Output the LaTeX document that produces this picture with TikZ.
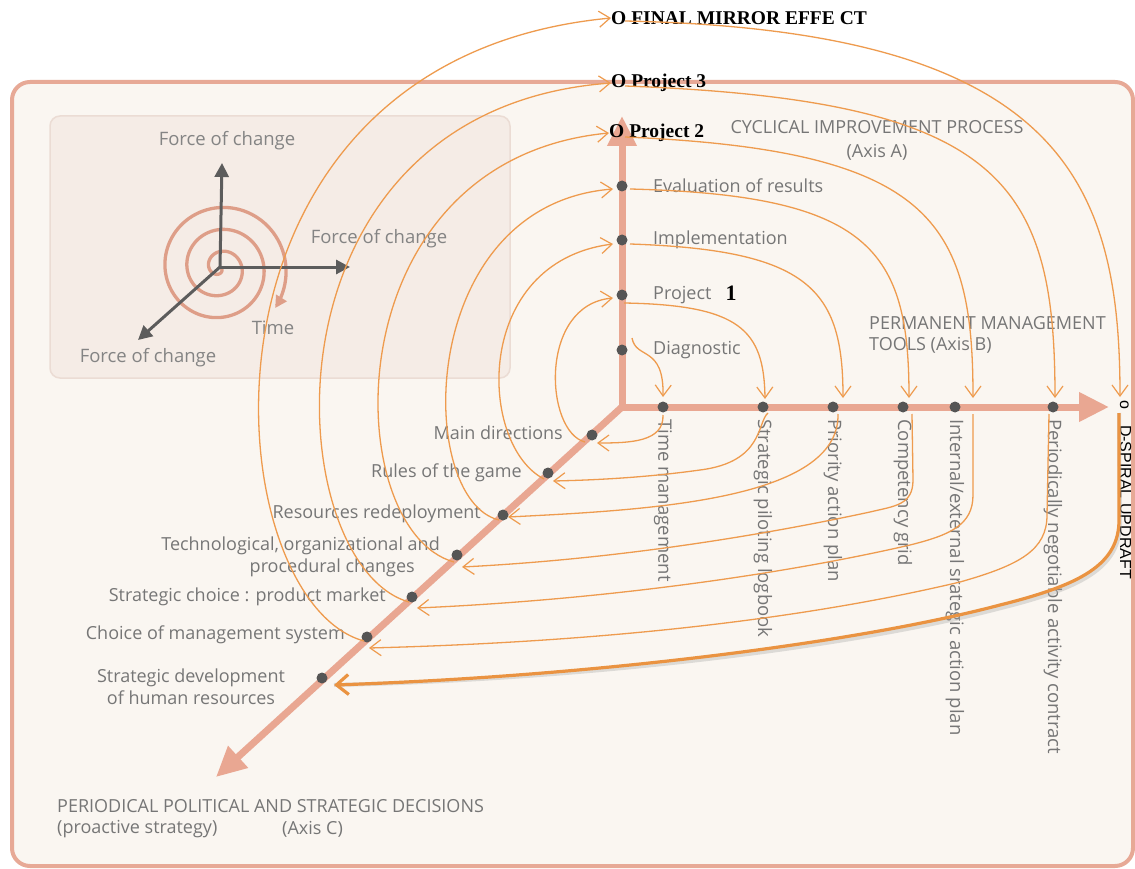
\documentclass[tikz,border=0pt]{standalone}
\usepackage{fontspec}
\setmainfont{Open Sans}
\newfontfamily\serifb{Liberation Serif}
\newfontfamily\arialf{Liberation Sans}
\usetikzlibrary{arrows.meta,calc}
\definecolor{framec}{HTML}{E7A996}
\definecolor{bgc}{HTML}{FAF6F1}
\definecolor{insetc}{HTML}{F5ECE6}
\definecolor{insetb}{HTML}{EBDCD4}
\definecolor{axisc}{HTML}{E9A792}
\definecolor{dotc}{HTML}{555555}
\definecolor{lblc}{HTML}{767676}
\definecolor{spc}{HTML}{EE9B4E}
\definecolor{thickc}{HTML}{EA9341}
\definecolor{darkax}{HTML}{5C5C5C}
\definecolor{ringc}{HTML}{DE9E88}
\tikzset{
  axisline/.style={draw=axisc, line width=7pt, -{Triangle[length=30pt,width=28pt]}},
  dotn/.style={circle, fill=dotc, inner sep=0pt, minimum size=11pt},
  lab/.style={text=lblc, font=\fontsize{18}{21}\selectfont, inner sep=0pt},
  vlab/.style={lab, font=\fontsize{18.5}{21}\selectfont, rotate=-90, anchor=west},
  blk/.style={text=black, font=\serifb\bfseries\fontsize{19.5}{21}\selectfont, inner sep=0pt},
  sp/.style={draw=spc, line width=1.3pt, -{Straight Barb[length=11pt,width=16pt,line width=1.2pt]}},
  thickarrow/.style={draw=thickc, line width=3.2pt, -{Straight Barb[length=12pt,width=20pt]}},
  darkarrow/.style={draw=darkax, line width=3pt, -{Triangle[length=14pt,width=14pt]}},
  insetlab/.style={text=lblc!90, font=\fontsize{18.5}{21}\selectfont, inner sep=0pt}
}
\begin{document}
\begin{tikzpicture}[x=1pt,y=-1pt]
\useasboundingbox (0,0) rectangle (1135,869);
\fill[white] (0,0) rectangle (1135,869);
% outer frame
\draw[draw=framec, fill=bgc, line width=4pt, rounded corners=18pt] (12,82) rectangle (1133,866);
% inset
\draw[draw=insetb, fill=insetc, line width=1.5pt, rounded corners=10pt] (50,116) rectangle (510,378);
\draw[draw=ringc, line width=3.3pt, -{Triangle[length=12pt,width=12pt]}]
  plot[domain=20:1116, samples=300, smooth] ({220+0.0611*\x*cos(\x)},{268+0.0611*\x*sin(\x)});
\coordinate (ic) at (220,267);
\coordinate (iup) at (222,163);
\coordinate (irt) at (350,267);
\coordinate (idl) at (138,340);
\draw[darkarrow] (ic) -- (iup);
\draw[darkarrow] (ic) -- (irt);
\draw[darkarrow] (ic) -- (idl);
\node[insetlab] (fc1) at (227,141) {Force of change};
\node[insetlab] (fc2) at (379,239) {Force of change};
\node[insetlab] (fc3) at (148,358) {Force of change};
\node[insetlab] (tim) at (273,328) {Time};
% axes
\coordinate (o) at (622,407);
\coordinate (atip) at (622,116);
\coordinate (btip) at (1109,407);
\coordinate (ctip) at (216,777);
\draw[axisline] (o) -- (atip);
\draw[axisline] (o) -- (btip);
\draw[axisline] (o) -- (ctip);
% dots
\node[dotn] (diag) at (622,350) {};
\node[dotn] (proj) at (622,295) {};
\node[dotn] (impl) at (622,240) {};
\node[dotn] (eval) at (622,186) {};
\node[dotn] (tm) at (663,407) {};
\node[dotn] (spl) at (763,407) {};
\node[dotn] (pap) at (833,407) {};
\node[dotn] (cg) at (903,407) {};
\node[dotn] (ie) at (955,407) {};
\node[dotn] (pnac) at (1053,407) {};
\node[dotn] (md) at (592,435) {};
\node[dotn] (rg) at (548,473) {};
\node[dotn] (rr) at (503,515) {};
\node[dotn] (tc) at (457,555) {};
\node[dotn] (sc) at (412,597) {};
\node[dotn] (cms) at (367,637) {};
\node[dotn] (sd) at (322,678) {};
% axis A labels
\node[lab, anchor=west] (ldiag) at (653,350) {Diagnostic};
\node[lab, anchor=west] (lproj) at (653,295) {Project};
\node[lab, anchor=west] (limpl) at (653,240) {Implementation};
\node[lab, anchor=west] (leval) at (653,186) {Evaluation of results};
\node[blk, font=\serifb\bfseries\fontsize{22}{22}\selectfont] (one) at (731,293) {1};
\node[lab, align=center] (axa) at (877,140) {CYCLICAL IMPROVEMENT PROCESS\\[3pt](Axis A)};
\node[lab, align=left, anchor=west] (axb) at (869,335) {PERMANENT MANAGEMENT\\TOOLS (Axis B)};
% axis B labels
\node[vlab] (ltm) at (663,419) {Time management};
\node[vlab] (lspl) at (763,419) {Strategic piloting logbook};
\node[vlab] (lpap) at (833,419) {Priority action plan};
\node[vlab] (lcg) at (903,419) {Competency grid};
\node[vlab] (lie) at (955,419) {Internal/external srategic action plan};
\node[vlab] (lpnac) at (1053,419) {Periodically negotiable activity contract};
% axis C labels
\node[lab, anchor=east] (lmd) at (563,433) {Main directions};
\node[lab, anchor=east] (lrg) at (522,473) {Rules of the game};
\node[lab, anchor=east] (lrr) at (481,514) {Resources redeployment};
\node[lab, anchor=east] (ltc1) at (440,546) {Technological, organizational and};
\node[lab, anchor=east] (ltc2) at (415,568) {procedural changes};
\node[lab, anchor=east] (lsc) at (386,597) {Strategic choice : product market};
\node[lab, anchor=east] (lcms) at (345,635) {Choice of management system};
\node[lab, align=center] (lsd) at (191,687) {Strategic development\\[1pt]of human resources};
\node[lab, anchor=west] (axc1) at (57,806) {PERIODICAL POLITICAL AND STRATEGIC DECISIONS};
\node[lab, anchor=west] (axc2) at (57,829) {(proactive strategy)};
\node[lab, anchor=west] (axc3) at (282,829) {(Axis C)};
% black labels
\node[blk, anchor=west] (p2) at (609,133) {O Project 2};
\node[blk, anchor=west] (p3) at (611,83) {O Project 3};
\node[blk, anchor=west] (fin) at (611,18) {O FINAL MIRROR EFFE CT};
\node[text=black, font=\arialf\fontsize{16}{16}\selectfont, inner sep=0pt, rotate=-90, anchor=base west] (dsp) at (1120,400) {o\quad D-SPIRAL UPDRAFT};
% spiral connector points
\coordinate (a0s) at (632,338); \coordinate (b0e) at (663,397);
\coordinate (b0s) at (663,415); \coordinate (c0e) at (597,443);
\coordinate (c0s) at (585,442); \coordinate (a1e) at (613,298);
\coordinate (a1s) at (624,303); \coordinate (b1e) at (765,399);
\coordinate (b1s) at (768,413); \coordinate (c1e) at (553,481);
\coordinate (c1s) at (544,479); \coordinate (a2e) at (613,244);
\coordinate (a2s) at (630,244); \coordinate (b2e) at (843,398);
\coordinate (b2s) at (838,414); \coordinate (c2e) at (508,517);
\coordinate (c2s) at (499,520); \coordinate (a3e) at (613,189);
\coordinate (a3s) at (630,189); \coordinate (b3e) at (909,398);
\coordinate (b3s) at (912,414); \coordinate (c3e) at (462,567);
\coordinate (c3s) at (454,562);
\coordinate (a4s) at (625,137); \coordinate (b4e) at (973,398);
\coordinate (b4s) at (973,414); \coordinate (c4e) at (417,608);
\coordinate (c4s) at (409,602);
\coordinate (a5s) at (625,86); \coordinate (b5e) at (1055,398);
\coordinate (b5s) at (1049,414); \coordinate (c5e) at (369,648);
\coordinate (c5s) at (364,641);
\coordinate (a6s) at (625,21); \coordinate (b6e) at (1120,397);
\coordinate (b6s) at (1119,413); \coordinate (c6e) at (334,685);
% loop 0
\draw[sp] (a0s) .. controls (636,360) and (664,345) .. (b0e);
\draw[sp] (b0s) .. controls (664,442) and (630,443) .. (c0e);
\draw[sp] (c0s) .. controls (545,432) and (538,305) .. (a1e);
% loop 1
\draw[sp] (a1s) .. controls (740,305) and (764,330) .. (b1e);
\draw[sp] (b1s) .. controls (757,422) and (764,462) .. (700,470) .. controls (650,477) and (600,480) .. (c1e);
\draw[sp] (c1s) .. controls (478,445) and (472,262) .. (a2e);
% loop 2
\draw[sp] (a2s) .. controls (810,250) and (843,290) .. (b2e);
\draw[sp] (b2s) .. controls (840,500) and (650,510) .. (c2e);
\draw[sp] (c2s) .. controls (415,500) and (415,205) .. (a3e);
% loop 3
\draw[sp] (a3s) .. controls (870,195) and (909,250) .. (b3e);
\draw[sp] (b3s) -- (913,480) .. controls (913,505) and (895,506) .. (870,512) .. controls (740,540) and (600,560) .. (c3e);
\draw[sp] (c3s) .. controls (338,530) and (330,160) .. (p2.west);
% loop 4
\draw[sp] (a4s) .. controls (930,150) and (973,220) .. (b4e);
\draw[sp] (b4s) -- (973,495) .. controls (973,525) and (950,535) .. (910,545) .. controls (780,575) and (600,600) .. (c4e);
\draw[sp] (c4s) .. controls (278,565) and (250,110) .. (p3.west);
% loop 5
\draw[sp] (a5s) .. controls (1000,100) and (1055,180) .. (b5e);
\draw[sp] (b5s) -- (1047,515) .. controls (1047,550) and (1020,565) .. (960,582) .. controls (800,620) and (600,642) .. (c5e);
\draw[sp] (c5s) .. controls (213,600) and (170,60) .. (fin.west);
% loop 6
\draw[sp] (a6s) .. controls (1060,30) and (1120,180) .. (b6e);
\draw[draw=black!35, opacity=0.35, line width=4pt, xshift=1pt, yshift=-3pt] (b6s) -- (1119,520) .. controls (1119,565) and (1080,585) .. (1000,605) .. controls (860,642) and (600,676) .. (c6e);
\draw[thickarrow] (b6s) -- (1119,520) .. controls (1119,565) and (1080,585) .. (1000,605) .. controls (860,642) and (600,676) .. (c6e);
\end{tikzpicture}
\end{document}
